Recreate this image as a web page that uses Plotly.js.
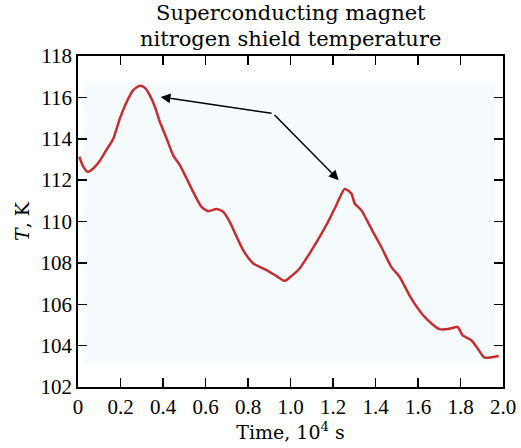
<!DOCTYPE html>
<html>
<head>
<meta charset="utf-8">
<script src="https://cdn.plot.ly/plotly-3.0.1.min.js"></script>
<style>html,body{margin:0;padding:0;background:#fff;}#chart{width:521px;height:448px;}</style>
</head>
<body>
<div id="chart"></div>
<script>
// Time, 10^4 s
const timeVals = [0.006, 0.025, 0.045, 0.07, 0.10, 0.13, 0.166, 0.197, 0.229, 0.26, 0.291, 0.315, 0.338, 0.362, 0.385, 0.417, 0.448, 0.479, 0.511, 0.542, 0.581, 0.612, 0.652, 0.683, 0.714, 0.745, 0.777, 0.824, 0.887, 0.934, 0.973, 1.004, 1.043, 1.09, 1.137, 1.177, 1.216, 1.255, 1.286, 1.302, 1.333, 1.388, 1.427, 1.474, 1.513, 1.568, 1.623, 1.662, 1.70, 1.741, 1.786, 1.81, 1.85, 1.88, 1.911, 1.942, 1.98];
// Temperature, K
const tempVals = [113.13, 112.65, 112.4, 112.55, 112.9, 113.4, 114.0, 114.98, 115.78, 116.35, 116.56, 116.46, 116.1, 115.54, 114.82, 114.01, 113.2, 112.72, 112.08, 111.43, 110.71, 110.5, 110.6, 110.47, 109.98, 109.3, 108.62, 107.98, 107.65, 107.36, 107.13, 107.36, 107.73, 108.46, 109.26, 109.99, 110.8, 111.57, 111.36, 110.87, 110.55, 109.5, 108.78, 107.81, 107.33, 106.28, 105.48, 105.08, 104.8, 104.8, 104.9, 104.5, 104.27, 103.87, 103.43, 103.43, 103.5];

const xTickVals = [0, 0.2, 0.4, 0.6, 0.8, 1.0, 1.2, 1.4, 1.6, 1.8, 2.0];
const xTickText = ['0', '0.2', '0.4', '0.6', '0.8', '1.0', '1.2', '1.4', '1.6', '1.8', '2.0'];
const yTickVals = [102, 104, 106, 108, 110, 112, 114, 116, 118];
const yTickText = ['102', '104', '106', '108', '110', '112', '114', '116', '118'];

const titleLines = ['Superconducting magnet', 'nitrogen shield temperature'];

// arrow: common tail and two heads (peaks)
const arrowTail = {x: 0.918, y: 115.22};
const arrowHeads = [{x: 0.389, y: 116.02}, {x: 1.227, y: 112.0}];

const tickFont = 'Liberation Serif, serif';
const textFont = 'DejaVu Serif, serif';

const trace = {
  x: timeVals, y: tempVals, type: 'scatter', mode: 'lines',
  line: {color: 'rgb(200,45,50)', width: 2.5, shape: 'spline', smoothing: 0.6},
  hoverinfo: 'skip'
};

const titleAnns = titleLines.map((t, i) => ({
  xref: 'paper', yref: 'paper', x: 0.5, y: [1.13, 1.05][i],
  xanchor: 'center', yanchor: 'middle', showarrow: false, text: t,
  font: {family: textFont, size: 21, color: '#000'}
}));

const arrowAnns = arrowHeads.map(h => ({
  xref: 'x', yref: 'y', axref: 'x', ayref: 'y',
  x: h.x, y: h.y, ax: arrowTail.x, ay: arrowTail.y,
  text: '', showarrow: true, arrowhead: 2, arrowsize: 1.3, arrowwidth: 1.5, arrowcolor: '#000'
}));

const layout = {
  width: 521, height: 448,
  margin: {l: 78, r: 18, t: 56, b: 61, pad: 0},
  paper_bgcolor: '#ffffff', plot_bgcolor: '#ffffff',
  showlegend: false,
  font: {family: tickFont, size: 21, color: '#000'},
  xaxis: {
    range: [0, 2.0], tickmode: 'array', tickvals: xTickVals, ticktext: xTickText,
    ticks: 'inside', ticklen: 9, tickwidth: 1.5, tickcolor: '#000',
    showline: true, linecolor: '#000', linewidth: 1.8, mirror: 'ticks',
    showgrid: false, zeroline: false,
    tickfont: {family: tickFont, size: 21, color: '#000'},
    title: {text: 'Time, 10<sup>4</sup> s', font: {family: textFont, size: 19, color: '#000'}, standoff: 4}
  },
  yaxis: {
    range: [102, 118], tickmode: 'array', tickvals: yTickVals, ticktext: yTickText,
    ticks: 'inside', ticklen: 9, tickwidth: 1.5, tickcolor: '#000',
    showline: true, linecolor: '#000', linewidth: 1.8, mirror: 'ticks',
    showgrid: false, zeroline: false,
    tickfont: {family: tickFont, size: 21, color: '#000'},
    title: {text: '<i>T</i>, K', font: {family: textFont, size: 19, color: '#000'}, standoff: 6}
  },
  shapes: [{
    type: 'rect', xref: 'x', yref: 'y', x0: 0.028, x1: 1.965, y0: 103.16, y1: 116.69,
    fillcolor: '#f5fbfd', line: {width: 0}, layer: 'below'
  }],
  annotations: titleAnns.concat(arrowAnns)
};

Plotly.newPlot('chart', [trace], layout, {displayModeBar: false, staticPlot: true});
</script>
</body>
</html>
